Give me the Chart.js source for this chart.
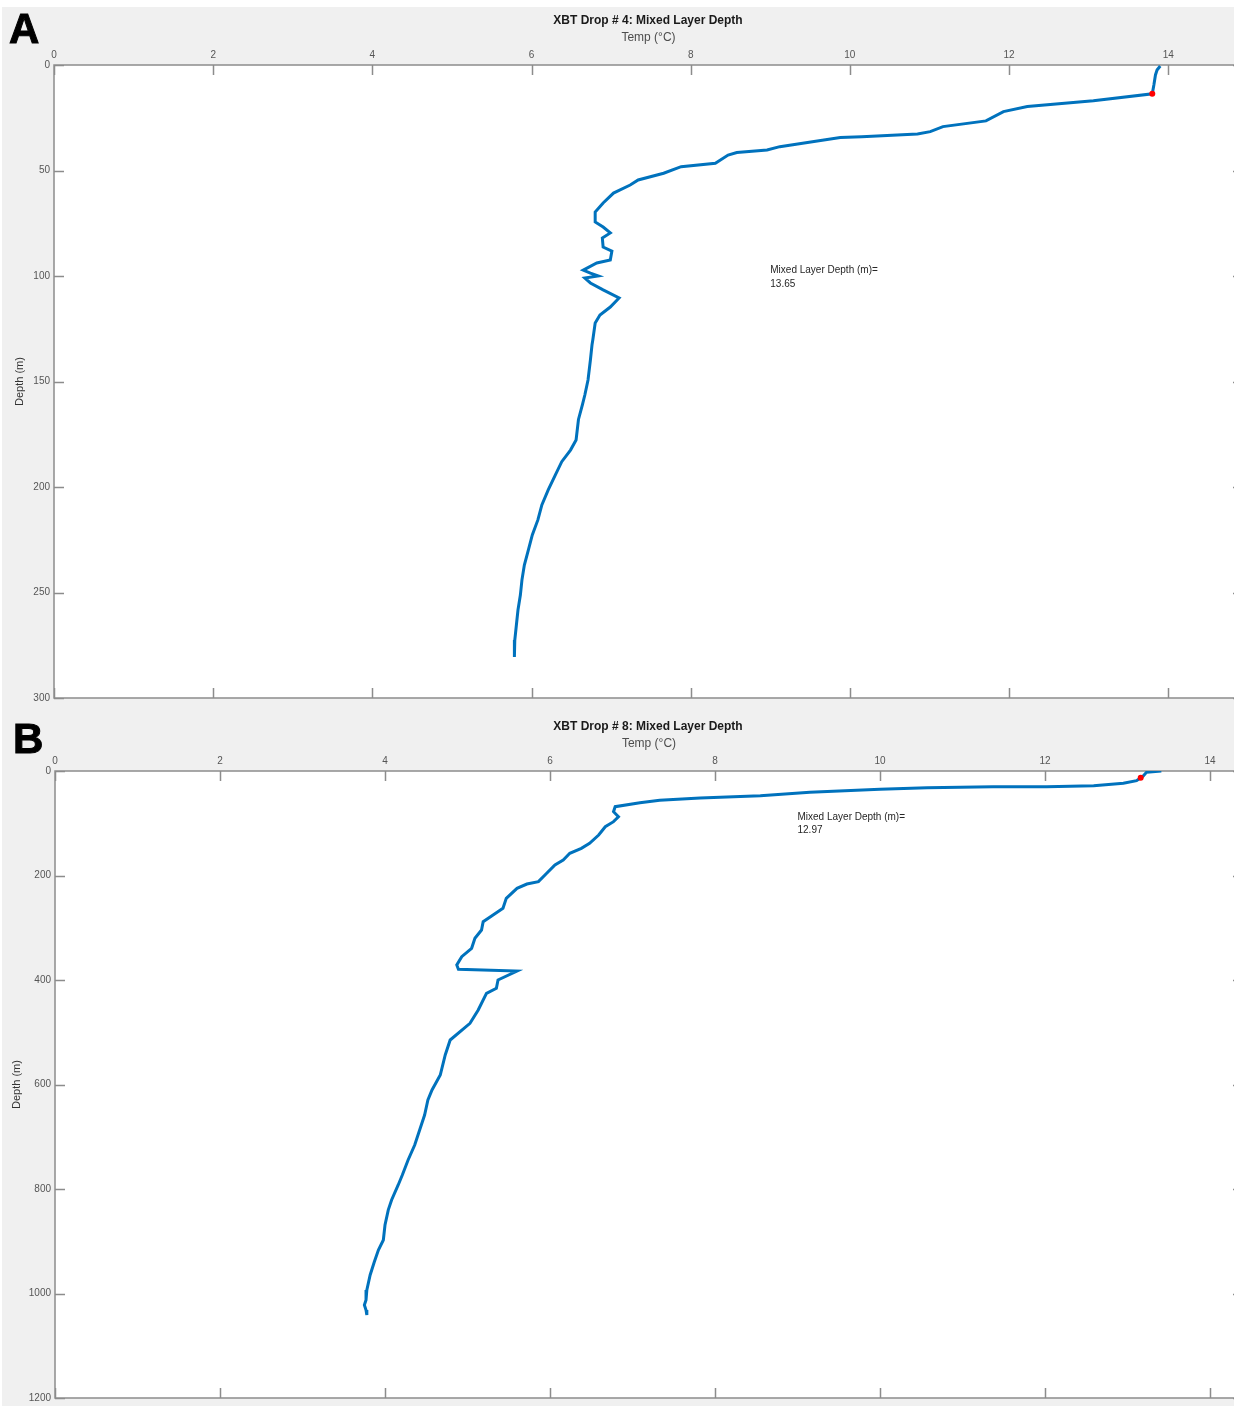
<!DOCTYPE html>
<html>
<head>
<meta charset="utf-8">
<script src="https://cdn.jsdelivr.net/npm/chart.js@4.4.1/dist/chart.umd.min.js"></script>
<style>
  html, body { margin: 0; padding: 0; background: #fff; overflow: hidden; }
  #wrap { position: absolute; left: 2px; top: 7px; width: 1232px; height: 1399px; overflow: hidden; background: #f0f0f0; }
  canvas { position: absolute; left: -2px; }
  #chartA { top: 0; }
  #chartB { top: 698px; }
  .tag { position: absolute; font: bold 42px "Liberation Sans", Arial, sans-serif; line-height: 1; color: #000; -webkit-text-stroke: 1px #000; }
</style>
</head>
<body>
<div id="wrap">
  <canvas id="chartA" width="1296" height="701"></canvas>
  <canvas id="chartB" width="1296" height="703"></canvas>
</div>
<div class="tag" style="left:9px; top:8px;">A</div>
<div class="tag" style="left:13px; top:718px;">B</div>

<script>
// ---------------------------------------------------------------------------
// Data
// ---------------------------------------------------------------------------

// Drop #4 temperature (°C) and depth (m)
const tempA = [13.90, 13.86, 13.84, 13.82, 13.80, 13.06, 12.23, 11.93, 11.71, 11.17, 11.01, 10.85,
  10.15, 9.88, 9.55, 9.12, 8.96, 8.58, 8.47, 8.31, 7.88, 7.66, 7.34, 7.24, 7.03, 6.90, 6.80, 6.80,
  6.90, 6.99, 6.89, 6.90, 7.01, 6.99, 6.82, 6.65, 6.74, 6.84, 6.67, 6.74, 6.90, 7.10, 6.99, 6.86,
  6.80, 6.77, 6.76, 6.74, 6.71, 6.67, 6.64, 6.59, 6.56, 6.49, 6.38, 6.30, 6.21, 6.13, 6.08, 6.01,
  5.96, 5.91, 5.88, 5.86, 5.83, 5.81, 5.79, 5.78, 5.79];
const depthA = [0.5, 2.4, 4.7, 9.5, 13.65, 16.9, 19.7, 22.1, 26.5, 29.2, 31.6, 32.7,
  34.0, 34.4, 36.3, 38.7, 40.3, 41.5, 42.7, 46.6, 48.2, 51.3, 54.5, 56.9, 60.7, 65.4, 69.7, 74.4,
  76.8, 79.6, 82.0, 86.3, 88.2, 92.4, 93.8, 97.2, 98.6, 100.0, 101.0, 103.3, 106.6, 110.4, 114.7, 118.5,
  122.3, 130.3, 132.7, 139.8, 149.3, 156.4, 161.0, 168.0, 177.7, 182.5, 188.0, 194.3, 201.4, 208.5, 215.6, 222.7,
  229.9, 237.0, 244.0, 251.2, 258.3, 265.4, 272.5, 277.3, 280.6];

// Drop #8 temperature (°C) and depth (m)
const tempB = [13.41, 13.23, 13.19, 13.16, 13.11, 12.95, 12.59, 12.02, 11.37, 10.57, 10.00, 9.15,
  8.55, 7.82, 7.33, 7.09, 6.79, 6.77, 6.83, 6.77, 6.67, 6.59, 6.48, 6.38, 6.24, 6.16, 6.06, 5.96,
  5.86, 5.72, 5.60, 5.47, 5.43, 5.31, 5.19, 5.17, 5.09, 5.05, 4.93, 4.87, 4.89, 5.60, 5.37, 5.35,
  5.23, 5.13, 5.03, 4.79, 4.73, 4.67, 4.57, 4.52, 4.48, 4.42, 4.36, 4.28, 4.21, 4.16, 4.08, 4.04,
  4.00, 3.98, 3.92, 3.87, 3.82, 3.78, 3.77, 3.75, 3.77, 3.78];
const depthB = [0, 2.6, 9.6, 12.97, 18.5, 23.6, 28.0, 30.0, 30.0, 31.9, 35.0, 40.8,
  47.2, 51.7, 56.0, 60.6, 68.3, 77.9, 87.5, 97.0, 106.6, 122.5, 138.4, 148.0, 157.5, 170.3, 179.9, 195.8,
  211.8, 216.3, 224.5, 243.6, 262.8, 275.6, 288.4, 304.3, 320.2, 339.3, 355.3, 371.3, 379.6, 382.8, 400.0, 415.9,
  425.5, 457.4, 482.9, 514.8, 543.5, 581.8, 610.5, 629.7, 658.4, 687.0, 715.8, 744.5, 773.2, 792.3, 821.0, 840.0,
  868.9, 897.6, 916.7, 939.7, 964.6, 993.3, 1012.4, 1022.0, 1031.6, 1041.0];

// Mixed layer depth markers
const mldA = { temp: 13.80, depth: 13.65 };
const mldB = { temp: 13.16, depth: 12.97 };

// Tick labels
const tempTicks = [0, 2, 4, 6, 8, 10, 12, 14];
const depthTicksA = [0, 50, 100, 150, 200, 250, 300];
const depthTicksB = [0, 200, 400, 600, 800, 1000, 1200];

// ---------------------------------------------------------------------------
// Helpers
// ---------------------------------------------------------------------------

const FONT = '"Liberation Sans", Arial, sans-serif';
const LINE_BLUE = '#0072BD';
const AXIS_GRAY = '#8c8c8c';
const TICK_TEXT = '#555';

function toPoints(xs, ys) {
  return xs.map((x, i) => ({ x: x, y: ys[i] }));
}

// white plot area, box border and inward MATLAB-style ticks
const framePlugin = {
  id: 'frame',
  beforeDraw(chart) {
    const { ctx, chartArea: a } = chart;
    ctx.save();
    ctx.fillStyle = '#fff';
    ctx.fillRect(a.left, a.top, a.right - a.left, a.bottom - a.top);
    ctx.restore();
  },
  beforeDatasetsDraw(chart) {
    const { ctx, chartArea: a, scales } = chart;
    const len = 10;
    ctx.save();
    ctx.strokeStyle = AXIS_GRAY;
    ctx.lineWidth = 1.5;
    ctx.beginPath();
    ctx.rect(a.left, a.top, a.right - a.left, a.bottom - a.top);
    scales.x.ticks.forEach(t => {
      const px = Math.round(scales.x.getPixelForValue(t.value)) + 0.5;
      ctx.moveTo(px, a.top); ctx.lineTo(px, a.top + len);
      ctx.moveTo(px, a.bottom); ctx.lineTo(px, a.bottom - len);
    });
    scales.y.ticks.forEach(t => {
      const py = Math.round(scales.y.getPixelForValue(t.value)) + 0.5;
      ctx.moveTo(a.left, py); ctx.lineTo(a.left + len, py);
      ctx.moveTo(a.right, py); ctx.lineTo(a.right - len, py);
    });
    ctx.stroke();
    ctx.restore();
  },
  afterDraw(chart) {
    const note = chart.options.plugins.frame;
    if (!note) return;
    const { ctx, scales } = chart;
    ctx.save();
    ctx.fillStyle = '#262626';
    ctx.font = '10px ' + FONT;
    ctx.textAlign = 'left';
    ctx.textBaseline = 'middle';
    const x = scales.x.getPixelForValue(note.x);
    note.lines.forEach((txt, i) => {
      ctx.fillText(txt, x, scales.y.getPixelForValue(note.y[i]));
    });
    ctx.restore();
  }
};

function makeChart(id, cfg) {
  const ctx = document.getElementById(id).getContext('2d');
  return new Chart(ctx, {
    type: 'scatter',
    data: {
      datasets: [{
        data: toPoints(cfg.temp, cfg.depth),
        showLine: true,
        borderColor: LINE_BLUE,
        borderWidth: 3,
        pointRadius: 0,
        tension: 0,
        order: 2
      }, {
        data: [{ x: cfg.mld.temp, y: cfg.mld.depth }],
        pointRadius: 3,
        pointBackgroundColor: '#ff0000',
        pointBorderWidth: 0,
        order: 1
      }]
    },
    options: {
      responsive: false,
      animation: false,
      layout: { padding: 0 },
      plugins: {
        legend: { display: false },
        tooltip: { enabled: false },
        title: {
          display: true,
          text: cfg.title,
          color: '#1a1a1a',
          font: { family: FONT, size: 12, weight: 'bold' },
          padding: { top: cfg.titleTop, bottom: 0 }
        },
        frame: cfg.note
      },
      scales: {
        x: {
          type: 'linear',
          position: 'top',
          min: 0,
          max: cfg.xMax,
          afterBuildTicks: s => { s.ticks = tempTicks.map(v => ({ value: v })); },
          afterFit: s => { s.height = 36.8; },
          grid: { display: false, drawTicks: false },
          border: { display: false },
          ticks: { color: TICK_TEXT, font: { family: FONT, size: 10 }, padding: 4, maxRotation: 0 },
          title: {
            display: true,
            text: 'Temp (°C)',
            color: '#4d4d4d',
            font: { family: FONT, size: 12 },
            padding: { top: 2.6, bottom: 0 }
          }
        },
        y: {
          type: 'linear',
          reverse: true,
          min: 0,
          max: cfg.yMax,
          afterBuildTicks: s => { s.ticks = cfg.yTicks.map(v => ({ value: v })); },
          afterFit: s => { s.width = cfg.yWidth; },
          grid: { display: false, drawTicks: false },
          border: { display: false },
          ticks: { color: TICK_TEXT, font: { family: FONT, size: 10 }, padding: 4, callback: v => String(v) },
          title: {
            display: true,
            text: 'Depth (m)',
            color: '#333',
            font: { family: FONT, size: 11 },
            padding: { top: cfg.yTitlePad, bottom: 0 }
          }
        },
        // empty right-hand axis: keeps the figure margin beyond the cropped edge
        yRight: {
          type: 'linear',
          position: 'right',
          afterFit: s => { s.width = 53; },
          grid: { display: false, drawTicks: false },
          border: { display: false },
          ticks: { display: false }
        }
      }
    },
    plugins: [framePlugin]
  });
}

// ---------------------------------------------------------------------------
// Charts
// ---------------------------------------------------------------------------

makeChart('chartA', {
  title: 'XBT Drop # 4: Mixed Layer Depth',
  temp: tempA, depth: depthA, mld: mldA,
  xMax: 14.94, yMax: 300, yTicks: depthTicksA,
  yWidth: 54, yTitlePad: 13.4, titleTop: 6.8,
  note: { x: 9.0, y: [97.2, 103.8], lines: ['Mixed Layer Depth (m)=', '13.65'] }
});

makeChart('chartB', {
  title: 'XBT Drop # 8: Mixed Layer Depth',
  temp: tempB, depth: depthB, mld: mldB,
  xMax: 14.4, yMax: 1200, yTicks: depthTicksB,
  yWidth: 55, yTitlePad: 10.4, titleTop: 14.8,
  note: { x: 9.0, y: [88, 113], lines: ['Mixed Layer Depth (m)=', '12.97'] }
});
</script>
</body>
</html>
